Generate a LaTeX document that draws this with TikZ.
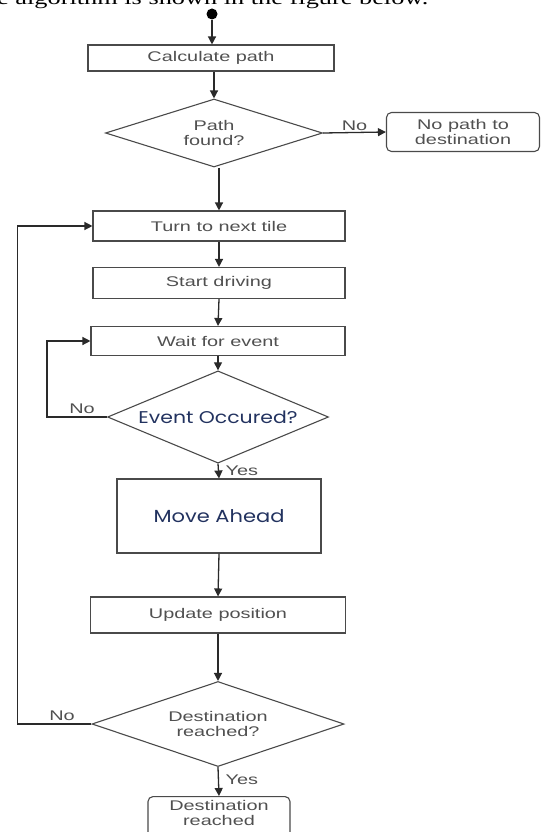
\documentclass[tikz,border=0pt]{standalone}
\usepackage{fontspec}
\setmainfont{Liberation Sans}
\newfontfamily\boxfont[FakeStretch=1.42]{Liberation Sans}
\newfontfamily\gothfont[FakeStretch=1.2]{Poppins}
\newfontfamily\serfont[FakeStretch=1.35]{Liberation Serif}
\usetikzlibrary{shapes.geometric,arrows.meta}
\definecolor{boxgray}{HTML}{4A4A4A}
\definecolor{txtgray}{HTML}{505050}
\definecolor{linegray}{HTML}{2A2A2A}
\definecolor{navy}{HTML}{22325F}
\begin{document}
\begin{tikzpicture}[x=1pt,y=-1pt,
  every node/.style={text=txtgray, font=\boxfont\fontsize{14}{15}\selectfont},
  box/.style={draw=boxgray, line width=1.1pt, rectangle, inner sep=2pt, align=center},
  rbox/.style={box, rounded corners=5pt},
  dec/.style={draw=boxgray, line width=1.1pt, diamond, inner sep=0pt, aspect=2, align=center},
  arr/.style={draw=linegray, line width=1.3pt, -{Triangle[length=8pt,width=8pt]}},
  lbl/.style={text=txtgray, inner sep=1.5pt}]
\useasboundingbox (0,0) rectangle (541,832);

\node[anchor=base west, inner sep=0pt, text=black, font=\serfont\fontsize{19.5}{21}\selectfont] (cap) at (-3,5) {e algorithm is shown in the figure below.};

\node[circle, fill=black, inner sep=0pt, minimum size=11pt] (start) at (212,14) {};
\node[box, minimum width=246pt, minimum height=26pt] (calc) at (211,58) {Calculate path};
\node[dec, minimum width=217pt, minimum height=68pt] (pf) at (214,133) {Path\\found?};
\node[rbox, minimum width=153pt, minimum height=39pt, font=\boxfont\fontsize{14}{14.5}\selectfont] (np) at (463,132) {No path to\\destination};
\node[box, minimum width=252pt, minimum height=30pt] (turn) at (219,226) {Turn to next tile};
\node[box, minimum width=252pt, minimum height=31pt] (drive) at (219,283) {Start driving};
\node[box, minimum width=254pt, minimum height=29pt] (wait) at (218,341) {Wait for event};
\node[dec, minimum width=221pt, minimum height=60pt, text=navy, font=\gothfont\fontsize{17}{18}\selectfont] (ev) at (218,417) {Event Occured?};
\node[box, minimum width=204pt, minimum height=74pt, text=navy, font=\gothfont\fontsize{17.5}{18}\selectfont] (move) at (219,516) {Move Ahead};
\node[box, minimum width=255pt, minimum height=36pt] (upd) at (218,615) {Update position};
\node[dec, minimum width=252pt, minimum height=85pt, font=\boxfont\fontsize{14}{15.5}\selectfont] (dr) at (218,724) {Destination\\reached?};
\node[rbox, minimum width=142pt, minimum height=54pt, anchor=north, font=\boxfont\fontsize{14}{15.5}\selectfont] (fin) at (219,796) {Destination\\reached\\[6pt]};

\draw[arr] (start.south) -- (start.south |- calc.north);
\draw[arr] (calc.south -| pf.north) -- (pf.north);
\draw[arr] (pf.east) -- (np.west) node[lbl, pos=0.5, above] {No};
\draw[arr] (pf.south -| turn.north) -- (turn.north);
\draw[arr] (turn.south) -- (drive.north);
\draw[arr] (drive.south) -- (wait.north);
\draw[arr] (wait.south) -- (ev.north);
\draw[arr] (ev.west) -- ++(-60,0) coordinate (l1) |- (wait.west);
\node[lbl, anchor=south] at (82,415) {No};
\draw[arr] (ev.south) -- (move.north) node[lbl, pos=0.45, right=5pt] {Yes};
\draw[arr] (move.south) -- (upd.north);
\draw[arr] (upd.south) -- (dr.north);
\draw[arr] (dr.west) -- ++(-74,0) coordinate (l2) |- (turn.west);
\node[lbl, anchor=south] at (62,722) {No};
\draw[arr] (dr.south) -- (fin.north) node[lbl, pos=0.45, right=5pt] {Yes};
\end{tikzpicture}
\end{document}
